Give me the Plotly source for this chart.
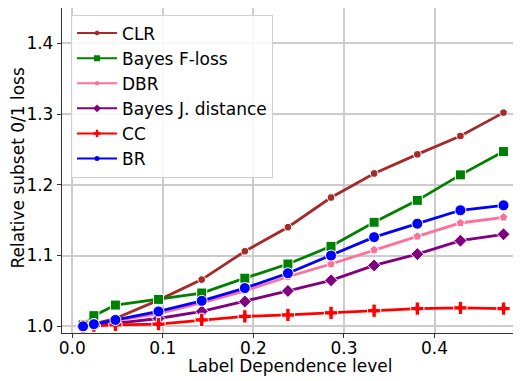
import plotly.graph_objects as go

# Data
dep_level = [0.0119, 0.0238, 0.0476, 0.0952, 0.1429, 0.1905, 0.2381, 0.2857, 0.3333, 0.3810, 0.4286, 0.4762]
clr = [1.000, 1.004, 1.011, 1.037, 1.066, 1.106, 1.140, 1.182, 1.216, 1.243, 1.269, 1.302]
bayes_f = [1.002, 1.015, 1.030, 1.038, 1.047, 1.068, 1.088, 1.113, 1.147, 1.178, 1.214, 1.247]
dbr = [1.000, 1.003, 1.008, 1.018, 1.033, 1.050, 1.070, 1.088, 1.108, 1.127, 1.146, 1.154]
bayes_j = [1.000, 1.002, 1.004, 1.011, 1.021, 1.035, 1.050, 1.065, 1.086, 1.102, 1.121, 1.130]
cc = [1.000, 1.001, 1.002, 1.003, 1.009, 1.014, 1.016, 1.019, 1.022, 1.025, 1.026, 1.025]
br = [1.000, 1.003, 1.009, 1.021, 1.036, 1.054, 1.075, 1.100, 1.126, 1.145, 1.164, 1.171]

x_title = "Label Dependence level"
y_title = "Relative subset 0/1 loss"

series = [
    ("CLR", clr, "#a52a2a", "octagon", 8, 2.8, 5),
    ("Bayes F-loss", bayes_f, "#008000", "square", 10, 2.8, 6),
    ("DBR", dbr, "#ff6f9a", "pentagon", 9, 2.8, 5),
    ("Bayes J. distance", bayes_j, "#800080", "diamond", 10, 2.8, 6),
    ("CC", cc, "#ff0000", "cross", 11, 2.8, 6),
    ("BR", br, "#0000ff", "circle", 11, 2.8, 5),
]

fig = go.Figure()
for name, vals, color, sym, size, lw, lsize in series:
    fig.add_trace(go.Scatter(
        x=dep_level, y=vals, mode="lines+markers", name=name, showlegend=False,
        line=dict(color=color, width=lw),
        marker=dict(symbol=sym, size=size, color=color, line=dict(color="white", width=1)),
    ))
for name, vals, color, sym, size, lw, lsize in series:
    fig.add_trace(go.Scatter(
        x=[None], y=[None], mode="lines+markers", name=name, showlegend=True,
        line=dict(color=color, width=2),
        marker=dict(symbol=sym, size=lsize, color=color),
    ))

axis_common = dict(
    showgrid=True, gridcolor="#cccccc", gridwidth=1.5,
    showline=True, linecolor="#333333", linewidth=1.3, mirror=True,
    ticks="outside", ticklen=4, tickwidth=1.2, tickcolor="#333333",
    zeroline=False, tickfont=dict(size=17, color="black", family="DejaVu Sans"),
    tickformat=".1f", automargin=False,
)

fig.update_layout(
    width=513, height=373,
    margin=dict(l=54, r=1, t=0, b=48),
    plot_bgcolor="white", paper_bgcolor="white",
    font=dict(family="DejaVu Sans", size=17, color="black"),
    xaxis=dict(range=[-0.0114, 0.4944], dtick=0.1, ticklabelstandoff=-5, **axis_common),
    yaxis=dict(range=[0.9905, 1.4499], dtick=0.1, **axis_common),
    legend=dict(x=0.0197, y=0.980, xanchor="left", yanchor="top",
                bgcolor="rgba(255,255,255,0.85)", bordercolor="#d0d0d0", borderwidth=1,
                font=dict(size=17, family="DejaVu Sans"), itemwidth=40, tracegroupgap=0),
    annotations=[
        dict(text=x_title, xref="paper", yref="paper", x=0.499, y=-0.1015,
             xanchor="center", yanchor="middle", showarrow=False, font=dict(size=17)),
        dict(text=y_title, xref="paper", yref="paper", x=-0.0961, y=0.509, textangle=-90,
             xanchor="center", yanchor="middle", showarrow=False, font=dict(size=17)),
    ],
)

fig.write_html("out.html")
